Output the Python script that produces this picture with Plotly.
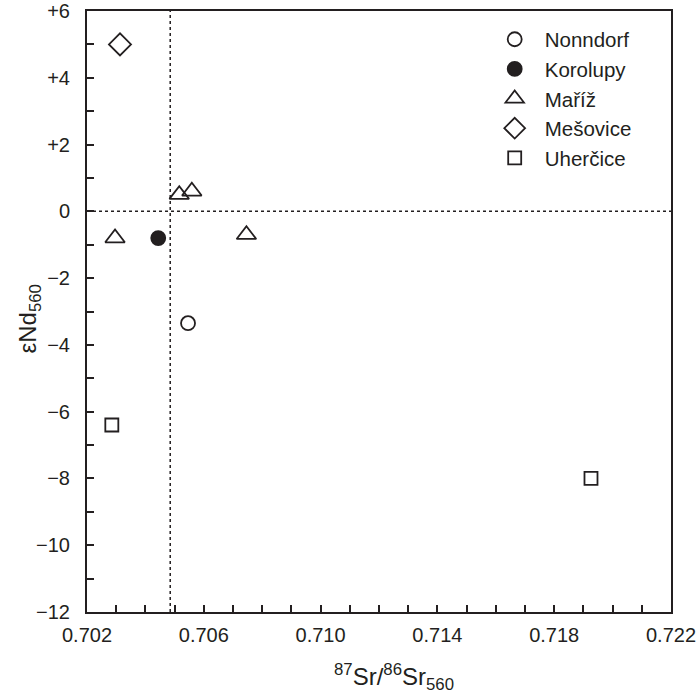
import plotly.graph_objects as go

# Data (87Sr/86Sr_560, eNd_560)
nonndorf_x = [0.70546]
nonndorf_y = [-3.35]
korolupy_x = [0.70444]
korolupy_y = [-0.8]
mariz_x = [0.70296, 0.70516, 0.70559, 0.70746]
mariz_y = [-0.8, 0.5, 0.6, -0.7]
mesovice_x = [0.70313]
mesovice_y = [5.0]
uhercice_x = [0.70285, 0.71926]
uhercice_y = [-6.4, -8.0]

x_ticks = [round(0.702 + 0.001 * i, 3) for i in range(21)]
x_ticklabels = [f"{v:.3f}" if i % 4 == 0 else "" for i, v in enumerate(x_ticks)]
y_ticks = list(range(-12, 7))
def ylab(v):
    if v % 2 != 0:
        return ""
    if v > 0:
        return f"+{v}"
    if v < 0:
        return f"\u2212{abs(v)}"
    return "0"
y_ticklabels = [ylab(v) for v in y_ticks]

sr_ref = 0.70485

FONT = "Liberation Sans, Arial, sans-serif"
INK = "#231f20"

fig = go.Figure()
series = [
    ("Nonndorf", nonndorf_x, nonndorf_y, "circle-open", 14, INK),
    ("Korolupy", korolupy_x, korolupy_y, "circle", 14, INK),
    ("Ma\u0159\u00ed\u017e", mariz_x, mariz_y, "triangle-up-open", 17, INK),
    ("Me\u0161ovice", mesovice_x, mesovice_y, "diamond-open", 17, INK),
    ("Uher\u010dice", uhercice_x, uhercice_y, "square-open", 13, INK),
]
for name, xs, ys, sym, size, col in series:
    fig.add_trace(go.Scatter(
        x=xs, y=ys, mode="markers", name=name,
        marker=dict(symbol=sym, size=size, color=col,
                    line=dict(color=col, width=1.8)),
    ))

fig.add_shape(type="line", xref="x", yref="paper", x0=sr_ref, x1=sr_ref, y0=0, y1=1,
              line=dict(color=INK, width=1.5, dash="dot"), layer="below")
fig.add_shape(type="line", xref="paper", yref="y", x0=0, x1=1, y0=0, y1=0,
              line=dict(color=INK, width=1.5, dash="3px,3px"), layer="below")

fig.add_annotation(text="<sup>87</sup>Sr/<sup>86</sup>Sr<sub>560</sub>",
                   xref="paper", yref="paper", x=0.5, y=0, xanchor="center", yanchor="middle",
                   xshift=15, yshift=-65, showarrow=False,
                   font=dict(family=FONT, size=24, color=INK))
fig.add_annotation(text="\u03b5Nd<sub>560</sub>", textangle=-90,
                   xref="paper", yref="paper", x=0, y=0.5, xanchor="center", yanchor="middle",
                   xshift=-58, yshift=-8, showarrow=False,
                   font=dict(family=FONT, size=24, color=INK))

fig.update_layout(
    width=699, height=695,
    margin=dict(l=87, r=28, t=11, b=83),
    plot_bgcolor="white", paper_bgcolor="white",
    font=dict(family=FONT, size=20, color=INK),
    showlegend=True,
    legend=dict(x=0.681, y=0.986, xanchor="left", yanchor="top",
                bgcolor="rgba(0,0,0,0)", itemwidth=50,
                font=dict(family=FONT, size=20.5, color=INK)),
    xaxis=dict(range=[0.702, 0.722], tickvals=x_ticks, ticktext=x_ticklabels,
               ticks="inside", ticklen=7, tickwidth=1.5, tickcolor=INK,
               showline=True, linecolor=INK, linewidth=2, mirror=True,
               showgrid=False, zeroline=False, automargin=False,
               tickfont=dict(size=20), ticklabelstandoff=4),
    yaxis=dict(range=[-12, 6], tickvals=y_ticks, ticktext=y_ticklabels,
               ticks="inside", ticklen=7, tickwidth=1.5, tickcolor=INK,
               showline=True, linecolor=INK, linewidth=2, mirror=True,
               showgrid=False, zeroline=False, automargin=False,
               tickfont=dict(size=20), ticklabelstandoff=11),
)

fig.write_html("out.html")
